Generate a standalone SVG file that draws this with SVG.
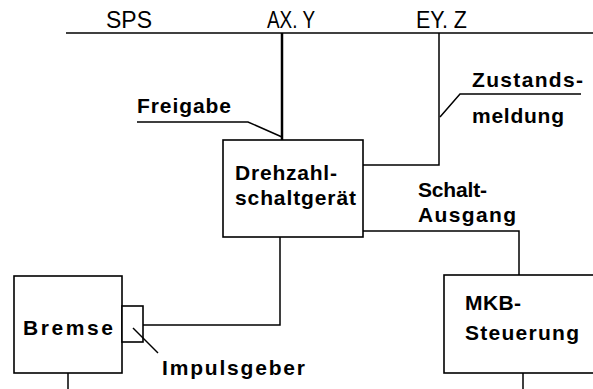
<svg xmlns="http://www.w3.org/2000/svg" width="593" height="389" viewBox="0 0 593 389">
<style>
.ln{fill:none;stroke:#000;stroke-width:1.5}
.bx{fill:#fff;stroke:#000;stroke-width:1.6}
.t{font-family:"Liberation Sans",Arial,sans-serif;font-size:23px;fill:#000}
.b{font-family:"Liberation Sans",Arial,sans-serif;font-size:21px;font-weight:bold;fill:#000}
</style>
<rect width="593" height="389" fill="#fff"/>
<g id="connectors">
<line class="ln" x1="66" y1="33" x2="593" y2="33"/>
<line class="ln" x1="282" y1="33" x2="282" y2="140" style="stroke-width:2.5"/>
<polyline class="ln" points="439,33 439,165 363,165"/>
<polyline class="ln" points="137,122 248,122 282,137"/>
<polyline class="ln" points="581,94 460,94 440,117"/>
<polyline class="ln" points="363,231 519,231 519,275"/>
<polyline class="ln" points="280,237 280,325 143,325"/>
<line class="ln" x1="68" y1="373" x2="68" y2="389"/>
<line class="ln" x1="523" y1="373" x2="523" y2="389"/>
</g>
<g id="bus-labels">
<text class="t" x="106" y="28">SPS</text>
<text class="t" x="267" y="28" textLength="48" lengthAdjust="spacingAndGlyphs">AX. Y</text>
<text class="t" x="416" y="28" textLength="51" lengthAdjust="spacingAndGlyphs">EY. Z</text>
</g>
<g id="freigabe"><text class="b" x="137" y="113" textLength="94" lengthAdjust="spacing">Freigabe</text></g>
<g id="zustandsmeldung">
<text class="b" x="472" y="87" textLength="111" lengthAdjust="spacing">Zustands-</text>
<text class="b" x="472" y="123" textLength="92" lengthAdjust="spacing">meldung</text>
</g>
<g id="drehzahlschaltgeraet">
<rect class="bx" x="223" y="140" width="140" height="97"/>
<text class="b" x="235" y="180" textLength="102" lengthAdjust="spacing">Drehzahl-</text>
<text class="b" x="235" y="205" textLength="121" lengthAdjust="spacing">schaltgerät</text>
</g>
<g id="schaltausgang">
<text class="b" x="418" y="197" textLength="69" lengthAdjust="spacing">Schalt-</text>
<text class="b" x="418" y="222" textLength="98" lengthAdjust="spacing">Ausgang</text>
</g>
<g id="bremse">
<rect class="bx" x="14" y="276" width="108" height="97"/>
<text class="b" x="23" y="335" textLength="90" lengthAdjust="spacing">Bremse</text>
</g>
<g id="impulsgeber">
<rect class="bx" x="122" y="306" width="21" height="36"/>
<line class="ln" x1="133" y1="328" x2="158" y2="353"/>
<text class="b" x="162" y="375" textLength="143" lengthAdjust="spacing">Impulsgeber</text>
</g>
<g id="mkb-steuerung">
<rect class="bx" x="444" y="275" width="160" height="98"/>
<text class="b" x="465" y="310" textLength="56" lengthAdjust="spacing">MKB-</text>
<text class="b" x="465" y="340" textLength="114" lengthAdjust="spacing">Steuerung</text>
</g>
</svg>
